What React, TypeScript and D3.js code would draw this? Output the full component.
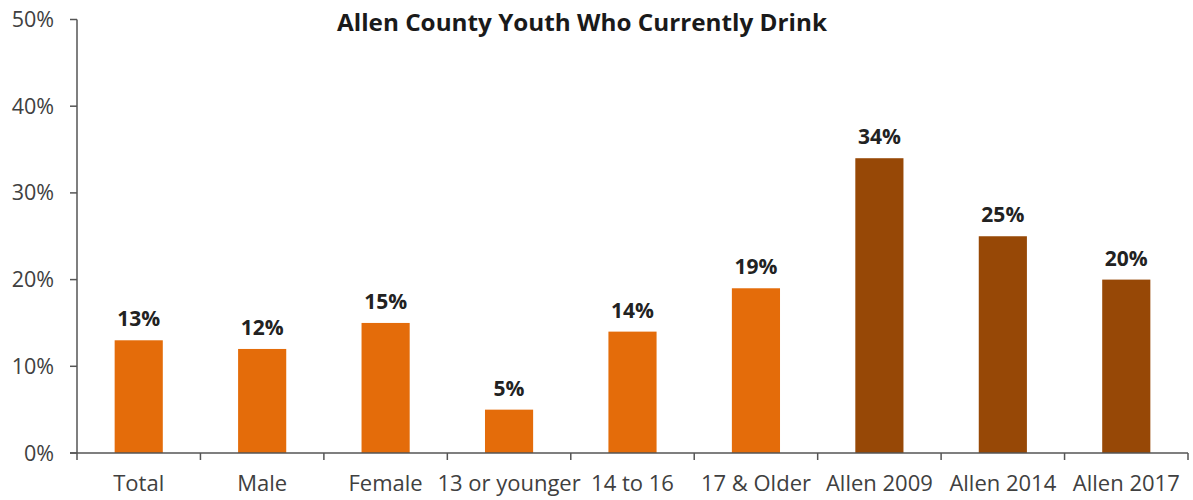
import React from "react";
import * as d3 from "d3";

const categories = ["Total", "Male", "Female", "13 or younger", "14 to 16", "17 & Older", "Allen 2009", "Allen 2014", "Allen 2017"];
const values = [13, 12, 15, 5, 14, 19, 34, 25, 20];
const barColors = ["#E46C0A", "#E46C0A", "#E46C0A", "#E46C0A", "#E46C0A", "#E46C0A", "#974806", "#974806", "#974806"];
const yTicks = [0, 10, 20, 30, 40, 50];
const title = "Allen County Youth Who Currently Drink";

const W = 1193;
const H = 500;
const FONT = "'Open Sans', sans-serif";

export default function App() {
  const x0 = 77, x1 = 1188;
  const yTop = 19.5, yBase = 453;
  const x = d3.scaleBand<string>().domain(categories).range([x0, x1]).paddingInner(0.61).paddingOuter(0.305);
  const y = d3.scaleLinear().domain([0, 50]).range([yBase, yTop]);
  const step = x.step();
  return (
    <svg width={W} height={H} style={{ position: "absolute", left: 0, top: 0, background: "#fff" }} fontFamily={FONT}>
      <text x={582} y={31} textAnchor="middle" fontSize={24} fontWeight="bold" fill="#1a1a1a" textLength={490} lengthAdjust="spacingAndGlyphs">{title}</text>
      {categories.map((c, i) => (
        <g key={c}>
          <rect x={x(c)} y={y(values[i])} width={x.bandwidth()} height={yBase - y(values[i])} fill={barColors[i]} />
          <text x={(x(c) as number) + x.bandwidth() / 2} y={y(values[i]) - 14} textAnchor="middle" fontSize={21} fontWeight="bold" fill="#222">{values[i]}%</text>
          <text x={(x(c) as number) + x.bandwidth() / 2} y={491} textAnchor="middle" fontSize={22} fill="#404040">{c}</text>
        </g>
      ))}
      <line x1={x0} x2={x0} y1={yTop} y2={yBase} stroke="#555" strokeWidth={1.5} />
      <line x1={x0 - 7} x2={x1} y1={yBase} y2={yBase} stroke="#555" strokeWidth={1.5} />
      {yTicks.map(t => (
        <g key={t}>
          <line x1={x0 - 7} x2={x0} y1={y(t)} y2={y(t)} stroke="#555" strokeWidth={1.5} />
          <text x={54} y={y(t)} dy="0.35em" textAnchor="end" fontSize={21.5} fill="#404040">{t}%</text>
        </g>
      ))}
      {d3.range(categories.length + 1).map(i => (
        <line key={i} x1={x0 + i * step} x2={x0 + i * step} y1={yBase} y2={yBase + 7} stroke="#555" strokeWidth={1.5} />
      ))}
    </svg>
  );
}
